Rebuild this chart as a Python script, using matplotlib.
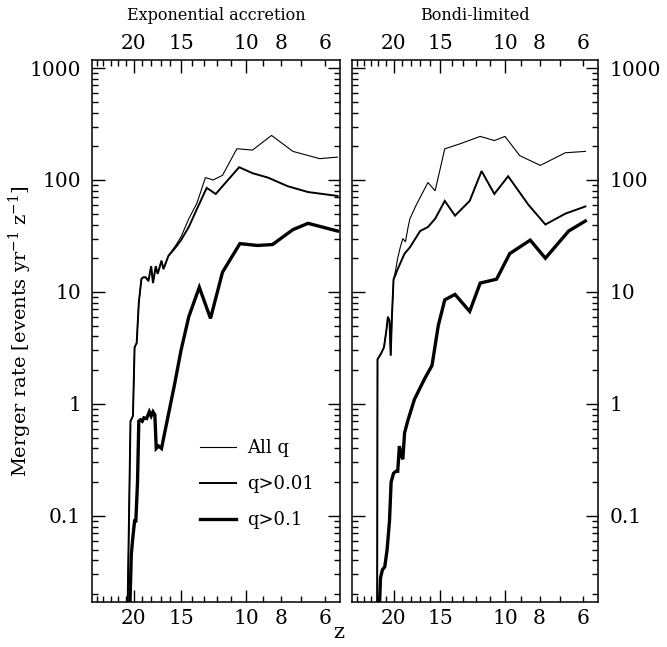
import numpy as np
import matplotlib
matplotlib.use('Agg')
import matplotlib.pyplot as plt
from matplotlib.ticker import FixedLocator, FixedFormatter, LogLocator, NullFormatter

plt.rcParams['font.family'] = ['DejaVu Serif']
plt.rcParams['mathtext.fontset'] = 'dejavuserif'

# ============================================================
# DATA
# ============================================================

panel_titles = ['Exponential accretion', 'Bondi-limited']
legend_labels = ['All q', 'q>0.01', 'q>0.1']

# Exponential accretion
z_all_exp = [20.8, 20.6, 20.4, 20.1, 19.9, 19.65, 19.4, 19.1, 18.9, 18.6, 18.3, 18.0,
             17.8, 17.5, 17.3, 16.9, 16.7, 16.2, 15.5, 15.0, 14.3, 13.6, 12.9, 12.3,
             11.6, 10.6, 9.6, 8.5, 7.4, 6.2, 5.5]
r_all_exp = [0.01, 0.08, 0.7, 0.78, 3.2, 3.5, 8, 13, 13.5, 13.5, 12.5, 17,
             12, 17, 14.5, 19, 16, 21, 26, 31, 45, 62, 105, 100,
             110, 190, 185, 250, 180, 155, 160]

z_q001_exp = [20.8, 20.6, 20.4, 20.1, 19.9, 19.65, 19.4, 19.1, 18.9, 18.6, 18.3, 18.0,
              17.8, 17.5, 17.3, 16.9, 16.7, 16.2, 15.5, 15.0, 14.3, 13.6, 12.8, 12.1,
              10.45, 9.6, 8.7, 7.66, 6.7, 5.5]
r_q001_exp = [0.01, 0.08, 0.7, 0.78, 3.2, 3.5, 8, 13, 13.5, 13.5, 12.5, 17,
              12, 17, 14.5, 19, 16, 21, 25, 29, 38, 55, 85, 75,
              130, 115, 105, 88, 78, 72]

z_q01_exp = [20.55, 20.3, 20.15, 19.9, 19.75, 19.55, 19.4, 19.2, 19.0, 18.8, 18.5, 18.2,
             18.0, 17.8, 17.6, 17.45, 17.2, 16.9, 15.6, 15.0, 14.3, 13.4, 12.5, 11.6,
             10.4, 9.3, 8.45, 7.4, 6.7, 5.5]
r_q01_exp = [0.01, 0.045, 0.06, 0.09, 0.09, 0.2, 0.7, 0.72, 0.7, 0.75, 0.74, 0.85,
             0.78, 0.85, 0.8, 0.4, 0.42, 0.4, 1.5, 3.0, 6, 11, 5.8, 15,
             27, 26, 26.5, 36, 41, 35]

# Bondi-limited
z_all_bondi = [22.1, 22.05, 21.6, 21.2, 20.9, 20.7, 20.5, 20.35, 20.2, 20.0, 19.8, 19.5,
               19.2, 18.9, 18.6, 18.3, 18.1, 17.4, 16.2, 15.5, 14.6, 13.3, 11.7, 10.7,
               10.0, 9.1, 7.96, 6.75, 5.9]
r_all_bondi = [0.01, 2.5, 2.8, 3.2, 4.5, 6, 5.5, 2.7, 6, 13, 15, 20,
               25, 30, 28, 38, 45, 60, 95, 80, 190, 210, 245, 225,
               245, 165, 135, 175, 180]

z_q001_bondi = [22.1, 22.05, 21.6, 21.2, 20.9, 20.7, 20.5, 20.35, 20.2, 20.0, 19.8, 19.5,
                18.7, 18.1, 17.0, 16.2, 15.5, 14.6, 13.7, 12.5, 11.6, 10.7, 9.8, 8.6,
                7.7, 6.75, 5.9]
r_q001_bondi = [0.01, 2.5, 2.8, 3.2, 4.5, 6, 5.5, 2.7, 6, 13, 14, 16,
                22, 25, 35, 38, 45, 65, 48, 65, 120, 75, 108, 60,
                40, 50, 58]

z_q01_bondi = [21.9, 21.65, 21.4, 21.1, 20.8, 20.5, 20.3, 20.0, 19.7, 19.5, 19.3, 19.1,
               18.9, 18.7, 18.35, 17.6, 16.5, 15.8, 15.2, 14.6, 13.7, 12.5, 11.7, 10.55,
               9.7, 8.5, 7.7, 6.6, 5.9]
r_q01_bondi = [0.01, 0.028, 0.033, 0.035, 0.05, 0.09, 0.2, 0.24, 0.25, 0.25, 0.42, 0.35,
               0.32, 0.55, 0.7, 1.1, 1.7, 2.2, 5, 8.5, 9.5, 6.7, 12, 13,
               22, 29, 20, 35, 43]

major_z = [20, 15, 10]
label_minor_z = [8, 6]
minor_z = [z for z in range(6, 26) if z not in major_z]

# ============================================================
# FIGURE
# ============================================================

def fwd(z):
    return np.log10(np.clip(1 + np.asarray(z, dtype=float), 1e-6, None))

def inv(u):
    return 10 ** np.asarray(u, dtype=float) - 1

fig = plt.figure(figsize=(6.67, 6.47), dpi=100)
ax1 = fig.add_axes([0.138, 0.0696, 0.372, 0.8377])
ax2 = fig.add_axes([0.528, 0.0696, 0.369, 0.8377])

series = [
    (ax1, [(z_all_exp, r_all_exp, 0.8), (z_q001_exp, r_q001_exp, 1.4), (z_q01_exp, r_q01_exp, 2.4)]),
    (ax2, [(z_all_bondi, r_all_bondi, 0.8), (z_q001_bondi, r_q001_bondi, 1.4), (z_q01_bondi, r_q01_bondi, 2.4)]),
]

for (ax, lines), title in zip(series, panel_titles):
    for (z, r, lw), lab in zip(lines, legend_labels):
        ax.plot(z, r, color='black', linewidth=lw, label=lab, solid_joinstyle='miter')
    ax.set_xscale('function', functions=(fwd, inv))
    ax.set_yscale('log')
    ax.set_xlim(25.7, 5.4)
    ax.set_ylim(0.017, 1180)

    ax.xaxis.set_major_locator(FixedLocator(major_z))
    ax.xaxis.set_major_formatter(FixedFormatter([str(z) for z in major_z]))
    ax.xaxis.set_minor_locator(FixedLocator(minor_z))
    ax.xaxis.set_minor_formatter(FixedFormatter([str(z) if z in label_minor_z else '' for z in minor_z]))

    ax.yaxis.set_major_locator(LogLocator(base=10, numticks=10))
    ax.yaxis.set_minor_locator(LogLocator(base=10, subs=np.arange(2, 10), numticks=20))
    ax.yaxis.set_minor_formatter(NullFormatter())
    ax.yaxis.set_major_formatter(plt.FuncFormatter(lambda v, p: f'{v:g}'))

    ax.tick_params(which='both', direction='in', top=True, right=True, labeltop=True,
                   labelsize=14.5, width=1.0, pad=5)
    ax.tick_params(which='major', length=9)
    ax.tick_params(which='minor', length=4.5)
    ax.tick_params(axis='y', which='both', pad=8)
    for sp in ax.spines.values():
        sp.set_linewidth(1.1)
    ax.set_title(title, fontsize=11.5, pad=29)

ax2.tick_params(which='both', labelleft=False, labelright=True)

ax1.set_ylabel('Merger rate [events yr$^{-1}$ z$^{-1}$]', fontsize=14)
ax1.yaxis.set_label_coords(-0.235, 0.5)
fig.text(0.508, 0.008, 'z', fontsize=15, ha='center', va='bottom')

ax1.legend(loc='upper left', bbox_to_anchor=(0.37, 0.33), frameon=False, fontsize=13,
           handlelength=2.0, labelspacing=1.0, handletextpad=0.6)

plt.savefig('out.png', dpi=100)
plt.close()
